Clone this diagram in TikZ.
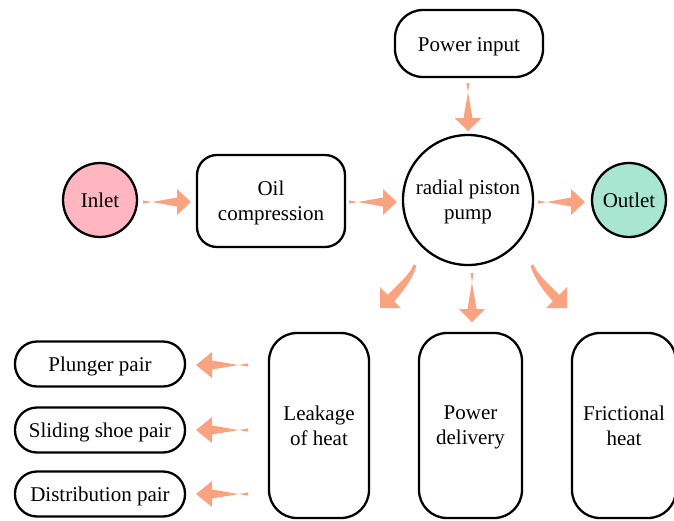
\documentclass[tikz,border=0pt]{standalone}
\usepackage{fontspec}
\setmainfont{Liberation Serif}
\newfontfamily\tnr{Liberation Serif}
\usetikzlibrary{calc}
\definecolor{arrowcol}{RGB}{249,163,128}
\definecolor{inletcol}{RGB}{255,182,193}
\definecolor{outletcol}{RGB}{168,230,210}
\newcommand{\fatarrow}[4]{% tail, tip, head length, head half-width
  \coordinate (hb) at ($(#2)!#3pt!(#1)$);
  \fill[arrowcol] ($(#1)!1.6pt!90:(#2)$) -- ($(hb)!4.5pt!-90:(#2)$) -- ($(hb)!#4pt!-90:(#2)$)
    -- (#2) -- ($(hb)!#4pt!90:(#2)$) -- ($(hb)!4.5pt!90:(#2)$) -- ($(#1)!1.6pt!-90:(#2)$) -- cycle;
}
\begin{document}
\begin{tikzpicture}[x=1pt,y=-1pt,
  every node/.style={font=\tnr\fontsize{21}{25}\selectfont, align=center, inner sep=0pt},
  oneline/.style={text height=15.5pt, text depth=0pt},
  twoline/.style={text depth=0pt},
  box/.style={draw, line width=2.3pt, rounded corners=#1, rectangle},
  box/.default=22pt,
  circ/.style={draw, line width=2.3pt, circle}]
\useasboundingbox (0,0) rectangle (674,520);

% nodes
\node[circ, oneline, fill=inletcol, minimum size=74pt] (inlet) at (100,200) {Inlet};
\node[box=20pt, twoline, minimum width=148pt, minimum height=92pt] (oil) at (271,201) {Oil\\compression};
\node[circ, twoline, minimum size=130pt] (pump) at (468,200) {radial piston\\pump};
\node[circ, oneline, fill=outletcol, minimum size=74pt] (outlet) at (629,200) {Outlet};
\node[box=28pt, oneline, minimum width=148pt, minimum height=67pt] (power) at (469,43.5) {Power input};
\node[box=28pt, twoline, minimum width=100pt, minimum height=185pt] (leak) at (319,425.5) {Leakage\\of heat};
\node[box=28pt, twoline, minimum width=103pt, minimum height=185pt] (deliv) at (470.5,425.5) {Power\\delivery};
\node[box=28pt, twoline, minimum width=104pt, minimum height=185pt] (fric) at (624,425.5) {Frictional\\heat};
\node[box=22pt, oneline, minimum width=170pt, minimum height=45pt] (plunger) at (100,364) {Plunger pair};
\node[box=22pt, oneline, minimum width=170pt, minimum height=45pt] (shoe) at (100,430) {Sliding shoe pair};
\node[box=22pt, oneline, minimum width=170pt, minimum height=45pt] (distr) at (100,494) {Distribution pair};

% arrow end points
\coordinate (a1t) at (143,202); \coordinate (a1h) at (191,202);
\coordinate (a2t) at (349,202); \coordinate (a2h) at (397,202);
\coordinate (a3t) at (538,202); \coordinate (a3h) at (585,202);
\coordinate (a4t) at (468,83);  \coordinate (a4h) at (468,131);
\coordinate (a5t) at (472,273); \coordinate (a5h) at (472,322);
\coordinate (a6t) at (248,365); \coordinate (a6h) at (196,365);
\coordinate (a7t) at (248,430); \coordinate (a7h) at (196,430);
\coordinate (a8t) at (248,494); \coordinate (a8h) at (196,494);

\fatarrow{a1t}{a1h}{14}{13}
\fatarrow{a2t}{a2h}{14}{13}
\fatarrow{a3t}{a3h}{14}{13}
\fatarrow{a4t}{a4h}{13}{13.5}
\fatarrow{a5t}{a5h}{13}{13}
\fatarrow{a6t}{a6h}{16}{13}
\fatarrow{a7t}{a7h}{16}{13}
\fatarrow{a8t}{a8h}{16}{13}

% curved arrows
\fill[arrowcol] (413.5,264.4) .. controls (410,275) and (395,287) .. (387.8,294.8)
  -- (380,287) -- (380,308) -- (401,308) -- (394.2,301.2)
  .. controls (401,294) and (413,279) .. (416.5,265.6) -- cycle;
\fill[arrowcol] (533.5,264.4) .. controls (537,275) and (552,287) .. (559.2,294.8)
  -- (567,287) -- (567,308) -- (546,308) -- (552.8,301.2)
  .. controls (546,294) and (534,279) .. (530.5,265.6) -- cycle;
\end{tikzpicture}
\end{document}
